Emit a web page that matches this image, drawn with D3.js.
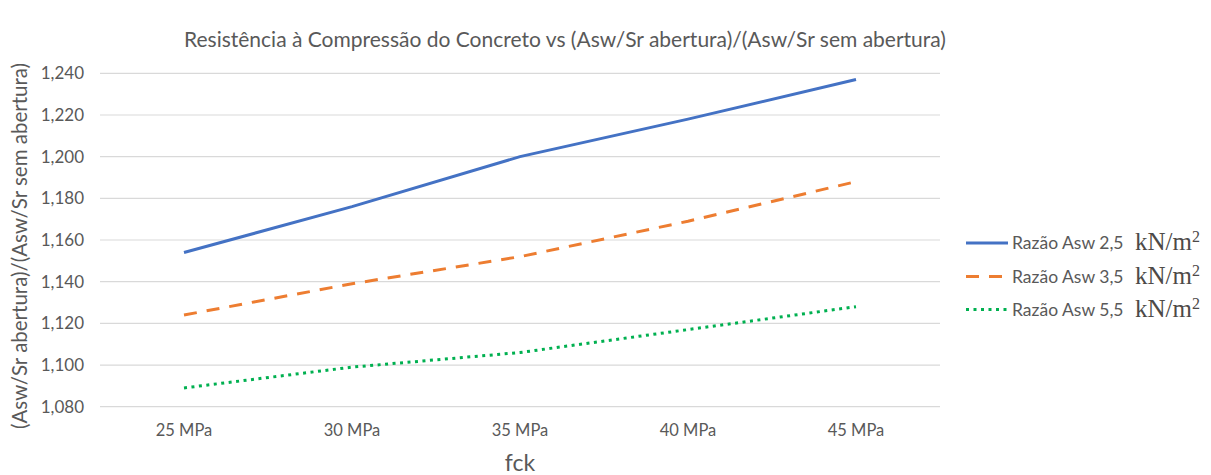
<!DOCTYPE html>
<html>
<head>
<meta charset="utf-8">
<script src="https://cdn.jsdelivr.net/npm/d3@7"></script>
<style>
  html, body { margin: 0; padding: 0; background: #ffffff; }
  svg { display: block; }
</style>
</head>
<body>
<svg id="chart" width="1211" height="475"></svg>
<script>
// ---- data ----
const categories = ["25 MPa", "30 MPa", "35 MPa", "40 MPa", "45 MPa"];
const seriesNames = ["Razão Asw 2,5", "Razão Asw 3,5", "Razão Asw 5,5"];
const series25 = [1.154, 1.176, 1.200, 1.218, 1.237];
const series35 = [1.124, 1.139, 1.152, 1.169, 1.188];
const series55 = [1.089, 1.099, 1.106, 1.117, 1.128];
const yTicks = [1.08, 1.10, 1.12, 1.14, 1.16, 1.18, 1.20, 1.22, 1.24];
const titleText = "Resistência à Compressão do Concreto vs (Asw/Sr abertura)/(Asw/Sr sem abertura)";
const xTitle = "fck";
const yTitle = "(Asw/Sr abertura)/(Asw/Sr sem abertura)";
const unitText = "kN/m";

// ---- layout ----
const svg = d3.select("#chart");
const plot = { left: 100, right: 940, top: 73.3, bottom: 406.7 };
const textColor = "#595959";
const font = "Lato, 'Open Sans', sans-serif";

const x = d3.scaleBand().domain(categories).range([plot.left, plot.right]);
const y = d3.scaleLinear().domain([1.08, 1.24]).range([plot.bottom, plot.top]);
const fmt = v => d3.format(".3f")(v).replace(".", ",");

// gridlines
svg.append("g")
  .selectAll("line").data(yTicks).join("line")
  .attr("x1", plot.left).attr("x2", plot.right)
  .attr("y1", d => y(d)).attr("y2", d => y(d))
  .attr("stroke", "#d9d9d9").attr("stroke-width", 1.2);

// y axis
const yAxis = svg.append("g")
  .attr("transform", `translate(${plot.left - 16},0)`)
  .call(d3.axisLeft(y).tickValues(yTicks).tickFormat(fmt).tickSize(0).tickPadding(0));
yAxis.select(".domain").remove();
yAxis.selectAll("text").attr("fill", textColor).style("font-family", font).style("font-size", "17px");

// x axis
const xAxis = svg.append("g")
  .attr("transform", `translate(0,${plot.bottom})`)
  .call(d3.axisBottom(x).tickSize(0).tickPadding(18));
xAxis.select(".domain").remove();
xAxis.selectAll("text").attr("fill", textColor).style("font-family", font).style("font-size", "16.5px");

// lines
const styles = [
  { color: "#4472c4", dash: null, data: series25 },
  { color: "#ed7d31", dash: "13,10", data: series35 },
  { color: "#00b050", dash: "3,4.5", data: series55 }
];
const line = d3.line()
  .x((d, i) => x(categories[i]) + x.bandwidth() / 2)
  .y(d => y(d));
styles.forEach(s => {
  svg.append("path")
    .datum(s.data)
    .attr("d", line)
    .attr("fill", "none")
    .attr("stroke", s.color)
    .attr("stroke-width", 3)
    .attr("stroke-dasharray", s.dash);
});

// title
svg.append("text")
  .attr("x", 565).attr("y", 47)
  .attr("text-anchor", "middle")
  .attr("fill", textColor)
  .style("font-family", font).style("font-size", "21px")
  .text(titleText);

// x title
svg.append("text")
  .attr("x", 520).attr("y", 471)
  .attr("text-anchor", "middle")
  .attr("fill", textColor)
  .style("font-family", font).style("font-size", "23px")
  .text(xTitle);

// y title
svg.append("text")
  .attr("transform", "translate(27,246) rotate(-90)")
  .attr("text-anchor", "middle")
  .attr("fill", textColor)
  .style("font-family", font).style("font-size", "20.5px")
  .text(yTitle);

// legend
const legendY = [243, 276.5, 309.5];
const lg = svg.append("g");
styles.forEach((s, i) => {
  const g = lg.append("g").attr("transform", `translate(0,${legendY[i]})`);
  g.append("line")
    .attr("x1", 966).attr("x2", 1008).attr("y1", 0).attr("y2", 0)
    .attr("stroke", s.color).attr("stroke-width", 3)
    .attr("stroke-dasharray", s.dash);
  g.append("text")
    .attr("x", 1012).attr("y", 6)
    .attr("fill", textColor)
    .style("font-family", font).style("font-size", "17.5px")
    .text(seriesNames[i]);
  const t = g.append("text")
    .attr("x", 1135).attr("y", 7)
    .attr("fill", "#4d4a48")
    .style("font-family", "'Liberation Serif', 'DejaVu Serif', serif").style("font-size", "25px");
  t.append("tspan").text(unitText);
  t.append("tspan").attr("dy", -8).style("font-size", "16px").text("2");
});
</script>
</body>
</html>
